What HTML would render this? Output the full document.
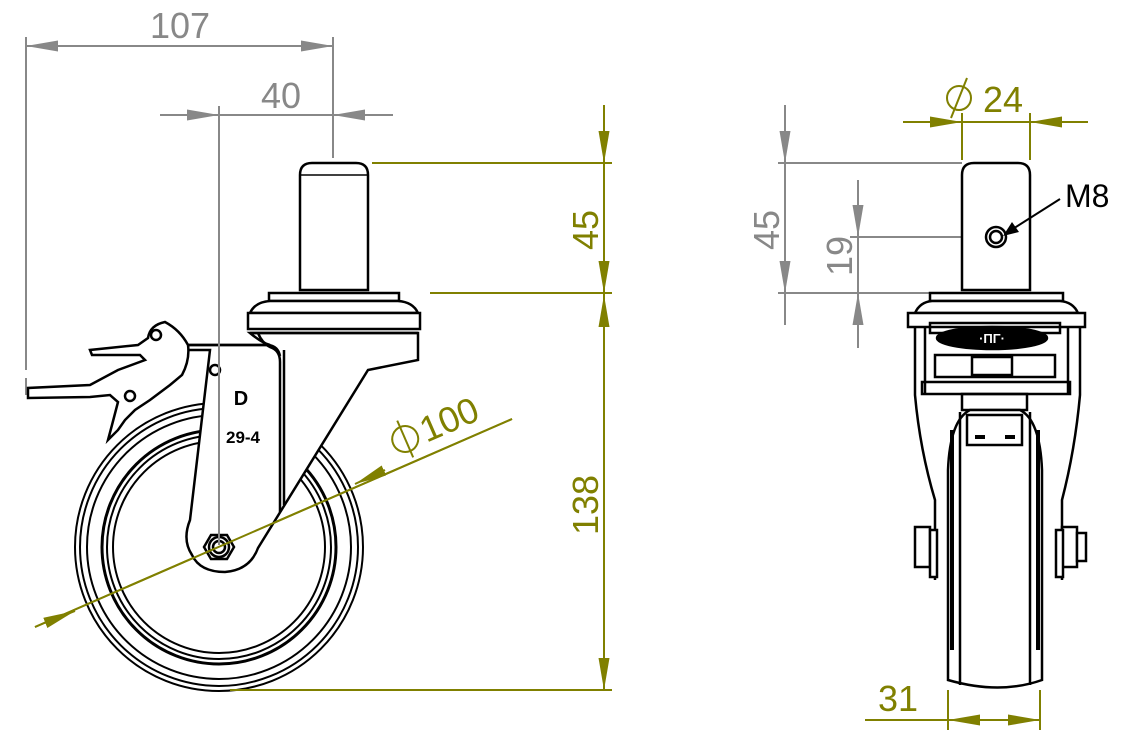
<!DOCTYPE html>
<html><head><meta charset="utf-8"><style>
html,body{margin:0;padding:0;background:#fff}
svg{display:block}
text{font-family:"Liberation Sans",sans-serif}
</style></head><body>
<svg width="1135" height="744" viewBox="0 0 1135 744" xmlns="http://www.w3.org/2000/svg">
<defs>
<marker id="ag" viewBox="0 0 10 10" refX="10" refY="5" markerWidth="32" markerHeight="11" markerUnits="userSpaceOnUse" orient="auto" preserveAspectRatio="none"><path d="M0,0 L10,5 L0,10 Z" fill="#888"/></marker>
<marker id="ao" viewBox="0 0 10 10" refX="10" refY="5" markerWidth="32" markerHeight="11" markerUnits="userSpaceOnUse" orient="auto" preserveAspectRatio="none"><path d="M0,0 L10,5 L0,10 Z" fill="#808000"/></marker>
</defs>

<!-- ========== LEFT VIEW (gray dims) ========== -->
<g stroke="#888" stroke-width="2" fill="none">
<line x1="26" y1="37" x2="26" y2="370"/>
<line x1="26" y1="378" x2="26" y2="395"/>
<line x1="333" y1="37" x2="333" y2="158"/>
<line x1="26" y1="46" x2="333" y2="46"/>
<line x1="60" y1="46" x2="26" y2="46" marker-end="url(#ag)"/>
<line x1="300" y1="46" x2="333" y2="46" marker-end="url(#ag)"/>
<line x1="219" y1="106" x2="219" y2="545"/>
<line x1="160" y1="115" x2="393" y2="115"/>
<line x1="185" y1="115" x2="219" y2="115" marker-end="url(#ag)"/>
<line x1="367" y1="115" x2="333" y2="115" marker-end="url(#ag)"/>
</g>
<text x="180" y="38" font-size="36" fill="#888" text-anchor="middle">107</text>
<text x="281" y="108" font-size="36" fill="#888" text-anchor="middle">40</text>

<!-- wheel -->
<g stroke="#000" stroke-width="2" fill="none">
<circle cx="219" cy="547" r="144"/>
<circle cx="219" cy="547" r="139"/>
<circle cx="219" cy="547" r="132"/>
<circle cx="219" cy="547" r="117" stroke-width="3"/>
<circle cx="219" cy="547" r="112"/>
<circle cx="219" cy="547" r="106"/>
</g>

<!-- olive dims left -->
<g stroke="#808000" stroke-width="2" fill="none">
<line x1="372" y1="163" x2="612" y2="163"/>
<line x1="430" y1="293" x2="612" y2="293"/>
<line x1="230" y1="690" x2="612" y2="690"/>
<line x1="604" y1="105" x2="604" y2="690"/>
<line x1="604" y1="130" x2="604" y2="163" marker-end="url(#ao)"/>
<line x1="604" y1="262" x2="604" y2="293" marker-end="url(#ao)"/>
<line x1="604" y1="326" x2="604" y2="295" marker-end="url(#ao)"/>
<line x1="604" y1="658" x2="604" y2="690" marker-end="url(#ao)"/>
<line x1="35" y1="627" x2="512" y2="419"/>
<line x1="45" y1="623" x2="75" y2="611" marker-end="url(#ao)"/>
<line x1="385" y1="470" x2="355" y2="484" marker-end="url(#ao)"/>
</g>
<text transform="translate(598,230) rotate(-90)" font-size="36" fill="#808000" text-anchor="middle">45</text>
<text transform="translate(598,505) rotate(-90)" font-size="36" fill="#808000" text-anchor="middle">138</text>
<g transform="translate(410,450) rotate(-23.5)">
<circle cx="0" cy="-12" r="13" stroke="#808000" stroke-width="2" fill="none"/>
<line x1="0" y1="-32" x2="0" y2="8" stroke="#808000" stroke-width="2"/>
<text x="18" y="0" font-size="36" fill="#808000">100</text>
</g>

<!-- stem & body -->
<g stroke="#000" stroke-width="2.5" fill="#fff">
<path d="M300,290 L300,175 Q300,163 312,163 L356,163 Q368,163 368,175 L368,290 Z"/>
<line x1="300" y1="175" x2="368" y2="175" stroke-width="1.5"/>
<!-- fork body filled -->
<path d="M210,345 L188,345 L188,350 L210,350 L190,520 Q182,540 192,555 Q200,572 225,572 Q250,570 258,548 L368,370 L418,360 L418,333 L250,333 Q262,343 270,345 Z"/>
<!-- collar plate -->
<rect x="269" y="293" width="130" height="8"/>
<path d="M250,313 Q255,302 270,301 L398,301 Q413,302 418,313 Z"/>
<rect x="248" y="313" width="172" height="16"/>
<line x1="250" y1="333" x2="418" y2="333"/>
<path d="M258,333 Q262,343 270,347 Q280,350 280,362 L280,512" fill="none"/>
<path d="M188,345 L268,345 Q278,346 280,356" fill="none"/>
<line x1="284" y1="350" x2="284" y2="505"/>
<!-- nut -->
<polygon points="204,547 211,535 227,535 234,547 227,559 211,559"/>
<circle cx="219" cy="547" r="10" fill="none"/>
<circle cx="219" cy="547" r="6" fill="none"/>
<circle cx="215" cy="370" r="5" fill="none"/>
<!-- brake lever -->
<path d="M188,345 Q180,330 165,322 Q150,325 148,338 L138,345 L90,350 L92,355 L140,355 L145,360 L118,370 L90,385 L28,388 L28,398 L90,397 L110,395 L118,402 L112,425 L108,440 L118,430 L125,420 L135,410 L150,400 L170,385 L182,375 Q190,360 188,345 Z"/>
<circle cx="156" cy="335" r="5" fill="none"/>
<circle cx="130" cy="396" r="5" fill="none"/>
</g>
<line x1="35" y1="627" x2="512" y2="419" stroke="#808000" stroke-width="2"/>
<line x1="219" y1="106" x2="219" y2="545" stroke="#888" stroke-width="2"/>
<text x="241" y="405" font-size="20" font-weight="bold" fill="#000" text-anchor="middle">D</text>
<text x="243" y="443" font-size="17" font-weight="bold" fill="#000" text-anchor="middle">29-4</text>

<!-- ========== RIGHT VIEW ========== -->
<g stroke="#888" stroke-width="2" fill="none">
<line x1="778" y1="163" x2="962" y2="163"/>
<line x1="778" y1="293" x2="930" y2="293"/>
<line x1="850" y1="237" x2="985" y2="237"/>
<line x1="785" y1="105" x2="785" y2="325"/>
<line x1="785" y1="130" x2="785" y2="163" marker-end="url(#ag)"/>
<line x1="785" y1="262" x2="785" y2="293" marker-end="url(#ag)"/>
<line x1="858" y1="180" x2="858" y2="348"/>
<line x1="858" y1="205" x2="858" y2="237" marker-end="url(#ag)"/>
<line x1="858" y1="325" x2="858" y2="293" marker-end="url(#ag)"/>
</g>
<text transform="translate(779,230) rotate(-90)" font-size="36" fill="#888" text-anchor="middle">45</text>
<text transform="translate(852,256) rotate(-90)" font-size="36" fill="#888" text-anchor="middle">19</text>

<g stroke="#808000" stroke-width="2" fill="none">
<line x1="962" y1="113" x2="962" y2="160"/>
<line x1="1030" y1="113" x2="1030" y2="160"/>
<line x1="903" y1="122" x2="1088" y2="122"/>
<line x1="930" y1="122" x2="962" y2="122" marker-end="url(#ao)"/>
<line x1="1062" y1="122" x2="1030" y2="122" marker-end="url(#ao)"/>
<line x1="948" y1="690" x2="948" y2="730"/>
<line x1="1040" y1="690" x2="1040" y2="730"/>
<line x1="865" y1="720" x2="1040" y2="720"/>
<line x1="980" y1="720" x2="948" y2="720" marker-end="url(#ao)"/>
<line x1="1008" y1="720" x2="1040" y2="720" marker-end="url(#ao)"/>
</g>
<g transform="translate(945,110)">
<circle cx="14" cy="-12" r="12" stroke="#808000" stroke-width="2" fill="none"/>
<line x1="22" y1="-32" x2="6" y2="8" stroke="#808000" stroke-width="2"/>
<text x="38" y="2" font-size="36" fill="#808000">24</text>
</g>
<text x="898" y="711" font-size="36" fill="#808000" text-anchor="middle">31</text>

<g stroke="#000" stroke-width="2.5" fill="#fff">
<path d="M962,290 L962,175 Q962,163 974,163 L1018,163 Q1030,163 1030,175 L1030,290 Z"/>
<circle cx="996" cy="237" r="10"/>
<circle cx="996" cy="237" r="6" fill="none"/>
<rect x="930" y="293" width="133" height="8"/>
<path d="M915,313 Q920,302 932,301 L1060,301 Q1073,302 1078,313 Z"/>
<rect x="908" y="313" width="177" height="14"/>
<path d="M915,327 L915,395 Q920,450 935,500 L935,580" fill="none"/>
<path d="M1080,327 L1080,395 Q1075,450 1062,500 L1062,580" fill="none"/>
<path d="M925,327 L925,395" fill="none"/>
<path d="M1068,327 L1068,395" fill="none"/>
<rect x="930" y="323" width="130" height="10" fill="none"/>
<ellipse cx="992" cy="338" rx="55" ry="11" fill="#000"/>
<rect x="935" y="355" width="120" height="22" fill="none"/>
<rect x="972" y="357" width="40" height="18" fill="none"/>
<rect x="922" y="382" width="148" height="12" fill="none"/>
<rect x="962" y="394" width="65" height="16" fill="none"/>
<path d="M948,680 L948,470 Q950,420 970,410 L1020,410 Q1040,420 1042,470 L1042,680 Q1000,695 948,680 Z"/>
<line x1="960" y1="412" x2="960" y2="685"/>
<line x1="1030" y1="412" x2="1030" y2="685"/>
<line x1="952" y1="430" x2="952" y2="650" stroke-width="4"/>
<line x1="1038" y1="430" x2="1038" y2="650" stroke-width="4"/>
<path d="M967,415 L1022,415 L1022,445 L967,445 Z"/>
<line x1="975" y1="437" x2="985" y2="437" stroke-width="4"/>
<line x1="1005" y1="437" x2="1015" y2="437" stroke-width="4"/>
<rect x="915" y="527" width="15" height="40"/>
<rect x="930" y="530" width="7" height="47"/>
<rect x="1062" y="527" width="15" height="40"/>
<rect x="1056" y="530" width="7" height="47"/>
<rect x="1077" y="533" width="9" height="28"/>
</g>
<text x="992" y="343" font-size="13" font-weight="bold" fill="#fff" text-anchor="middle">·ΠΓ·</text>
<line x1="1060" y1="199" x2="1008" y2="232" stroke="#000" stroke-width="2"/>
<polygon points="1003,236 1012,222 1019,232" fill="#000"/>
<text x="1065" y="207" font-size="32" fill="#000">M8</text>
</svg>
</body></html>
